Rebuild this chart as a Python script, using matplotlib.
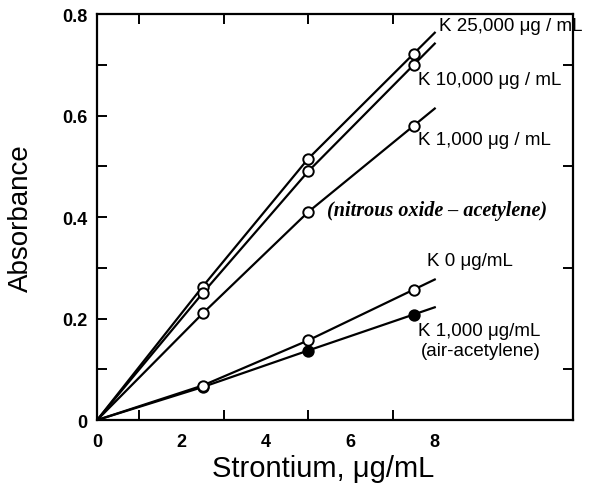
import numpy as np
import matplotlib
matplotlib.use("Agg")
import matplotlib.pyplot as plt

plt.rcParams['font.family'] = ['Liberation Sans', 'DejaVu Sans']

# strontium concentration, ug/mL
sr = [0, 2.5, 5, 7.5]

# absorbance for each potassium level
k25000 = [0, 0.263, 0.515, 0.722]
k10000 = [0, 0.25, 0.49, 0.70]
k1000 = [0, 0.21, 0.41, 0.58]
k0 = [0, 0.068, 0.157, 0.257]
k1000_air = [0, 0.065, 0.137, 0.208]

x_end = 8.0

fig = plt.figure(figsize=(5.96, 4.89), dpi=100)
ax = fig.add_axes([0.163, 0.139, 0.798, 0.830])


def draw(y, filled=False, z=3):
    # extend the line past the last point with the slope of the last segment
    slope = (y[-1] - y[-2]) / (sr[-1] - sr[-2])
    xs = sr + [x_end]
    ys = y + [y[-1] + slope * (x_end - sr[-1])]
    ax.plot(xs, ys, color='black', lw=1.6, zorder=2)
    ax.plot(sr[1:], y[1:], 'o', ms=7.5, mew=1.4, mec='black',
            mfc='black' if filled else 'white', zorder=z)


draw(k25000)
draw(k10000)
draw(k1000)
draw(k1000_air, filled=True, z=3)
draw(k0, z=4)

ax.set_xlim(0, 11.27)
ax.set_ylim(0, 0.8)

ax.set_xticks([1, 2, 3, 4, 5, 6, 7, 8], minor=True)
ax.set_xticks([0, 2, 4, 6, 8])
ax.set_xticklabels(['0', '2', '4', '6', '8'])
ax.set_yticks(np.arange(1, 8) / 10, minor=True)
ax.set_yticks([0, 0.2, 0.4, 0.6, 0.8])
ax.set_yticklabels(['0', '0.2', '0.4', '0.6', '0.8'])

ax.tick_params(which='both', direction='in', top=True, right=True,
               width=1.4, labelsize=13)
ax.tick_params(which='major', length=7, pad=7)
ax.tick_params(which='minor', length=7)
ax.tick_params(axis='x', which='major', length=0, pad=9)
ax.tick_params(axis='y', which='major', right=False)
for lab in ax.get_xticklabels() + ax.get_yticklabels():
    lab.set_fontweight('bold')

for s in ax.spines.values():
    s.set_linewidth(1.6)

ax.set_xlabel('Strontium, \u03bcg/mL', fontsize=21)
ax.xaxis.set_label_coords(0.475, -0.083)
ax.set_ylabel('Absorbance', fontsize=20)
ax.yaxis.set_label_coords(-0.132, 0.5)

txt = dict(fontsize=13.5, ha='left', va='center')
ax.text(8.1, 0.778, 'K 25,000 \u03bcg / mL', **txt)
ax.text(7.6, 0.672, 'K 10,000 \u03bcg / mL', **txt)
ax.text(7.6, 0.553, 'K 1,000 \u03bcg / mL', **txt)
ax.text(5.45, 0.413, '(nitrous oxide \u2013 acetylene)', style='italic',
        fontweight='bold', fontsize=14.5, ha='left', va='center',
        family='Liberation Serif')
ax.text(7.82, 0.314, 'K 0 \u03bcg/mL', **txt)
ax.text(7.6, 0.176, 'K 1,000 \u03bcg/mL', **txt)
ax.text(7.68, 0.137, '(air-acetylene)', **txt)

fig.savefig('out.png', dpi=100)
